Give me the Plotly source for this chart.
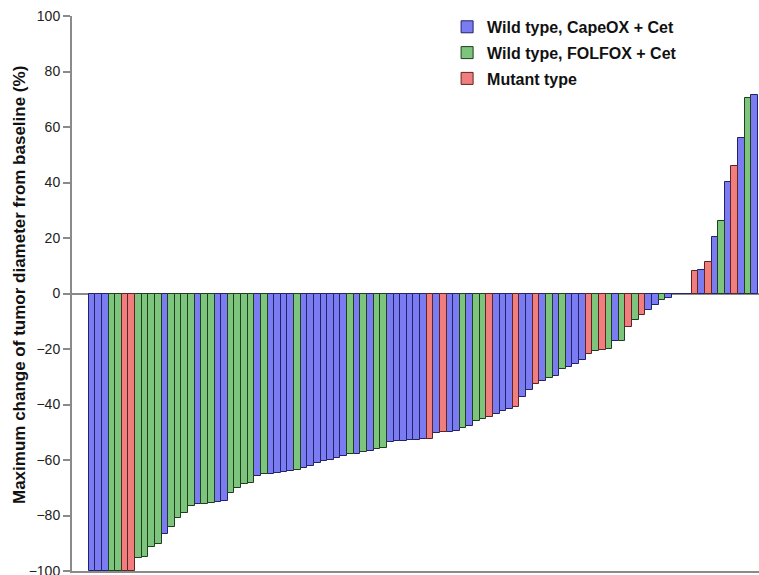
import plotly.graph_objects as go

# Maximum change of tumor diameter (%) per patient, sorted (waterfall)
values = [-100, -100, -100, -100, -100, -100, -100,
          -95.3, -94.8, -91.4, -90.2, -86.8, -84.2, -80.8, -79.0, -76.4, -75.8,
          -75.8, -75.6, -75.2, -74.8, -72.0, -70.0, -68.6, -68.2,
          -65.6, -65.2, -65.0, -64.6, -64.4, -64.0, -63.5, -62.8, -62.0, -61.1,
          -60.4, -59.9, -59.2, -58.7, -58.0, -57.8, -57.2, -56.6, -56.0, -55.6,
          -53.6, -53.3, -53.1, -52.9, -52.8, -52.6, -52.4,
          -50.2, -50.0, -49.8, -49.5, -48.4, -47.9, -45.8, -45.3, -44.6, -43.6,
          -42.4, -41.6, -41.0, -37.4, -34.8, -32.5, -31.4, -30.4, -29.9, -27.1,
          -26.5, -25.5, -24.0, -21.7, -20.8, -20.5, -19.9, -17.2, -17.0, -12.1,
          -9.5, -7.6, -5.9, -4.0, -2.5, -1.6,
          0, 0, 0,
          8.0, 8.3, 11.3, 20.5, 26.1, 40.1, 46.1, 56.0, 70.4, 71.4]

# B = Wild type CapeOX + Cet, G = Wild type FOLFOX + Cet, R = Mutant type
groups = ["B", "B", "B", "G", "G", "R", "R",
          "G", "G", "G", "G", "B", "G", "G", "G", "G", "B",
          "G", "G", "B", "B", "G", "G", "G", "G",
          "B", "G", "B", "B", "B", "B", "G", "B", "B", "B",
          "B", "B", "B", "B", "G", "B", "G", "B", "G", "G",
          "B", "B", "B", "B", "B", "B", "R",
          "B", "R", "B", "B", "G", "B", "G", "G", "R", "B",
          "B", "B", "R", "B", "B", "R", "B", "G", "B", "G",
          "B", "B", "B", "R", "G", "R", "G", "B", "G", "R",
          "G", "R", "B", "B", "G", "B",
          "B", "B", "B",
          "R", "B", "R", "B", "G", "B", "R", "B", "G", "B"]

patients = list(range(1, len(values) + 1))

group_codes = ["B", "G", "R"]
group_names = ["Wild type, CapeOX + Cet", "Wild type, FOLFOX + Cet", "Mutant type"]
fill_colors = ["#7b7bf2", "#7dc47d", "#f07e7e"]
line_colors = ["#22226a", "#1f3d1f", "#5e2424"]

fig = go.Figure()
for code, name, fc, lc in zip(group_codes, group_names, fill_colors, line_colors):
    xs = [p for p, g in zip(patients, groups) if g == code]
    ys = [v for v, g in zip(values, groups) if g == code]
    fig.add_trace(go.Bar(
        x=xs, y=ys, name=name, width=1,
        marker=dict(color=fc, line=dict(color=lc, width=1)),
        legendgroup=code,
    ))

fig.update_layout(
    width=759, height=575,
    margin=dict(l=72, r=0, t=16, b=4, autoexpand=False),
    paper_bgcolor="white", plot_bgcolor="white",
    barmode="overlay", bargap=0,
    font=dict(family="Liberation Sans, Arial, sans-serif", color="#222"),
    showlegend=True,
    legend=dict(
        x=0.546, y=1.011, xanchor="left", yanchor="top",
        bgcolor="rgba(0,0,0,0)",
        font=dict(size=16, color="#111", weight="bold"),
        tracegroupgap=2, itemwidth=30,
    ),
    xaxis=dict(
        range=[-2.02, 101.66], showticklabels=False, ticks="",
        showgrid=False, zeroline=False, automargin=False,
        showline=True, linecolor="#8a8a8a", linewidth=2,
    ),
    yaxis=dict(
        range=[-100, 100], dtick=20, tick0=0,
        ticks="outside", ticklen=7, tickwidth=1.5, tickcolor="#8a8a8a",
        showline=True, linecolor="#8a8a8a", linewidth=2,
        showgrid=False, automargin=False,
        zeroline=True, zerolinecolor="#8a8a8a", zerolinewidth=1.5,
        tickfont=dict(size=14, color="#222"),
        ticklabeloverflow="allow",
    ),
    annotations=[dict(
        text="Maximum change of tumor diameter from baseline (%)",
        xref="paper", yref="paper",
        x=(19 - 72) / 687, y=(571 - 285) / 555,
        xanchor="center", yanchor="middle",
        textangle=-90, showarrow=False,
        font=dict(size=17, color="#111", weight="bold"),
    )],
)

page_style = ("document.documentElement.style.overflow='hidden';"
              "document.body.style.overflow='hidden';"
              "document.body.style.margin='0';")

fig.write_html("out.html", post_script=page_style,
               config={"displayModeBar": False})
